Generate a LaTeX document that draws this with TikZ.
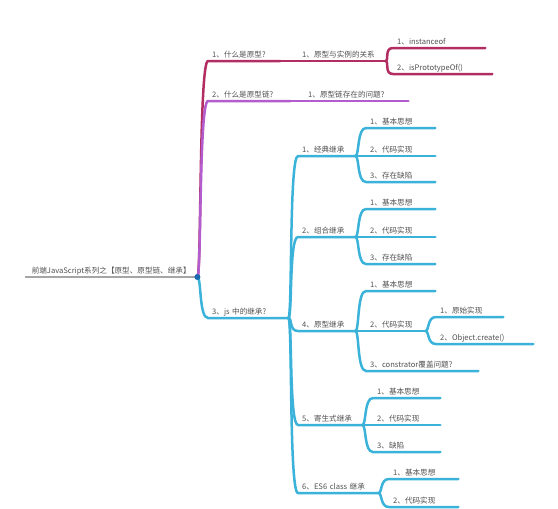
\documentclass[tikz,border=0pt]{standalone}
\usepackage{fontspec}
\newfontfamily\cjk{Noto Sans CJK SC}
\definecolor{protored}{RGB}{178,46,98}
\definecolor{chainpurple}{RGB}{178,92,205}
\definecolor{inheritblue}{RGB}{58,178,218}
\definecolor{rootgray}{RGB}{165,165,165}
\definecolor{rootdot}{RGB}{25,105,175}
\definecolor{labelgray}{RGB}{80,80,80}

\begin{document}
\begin{tikzpicture}[x=1pt, y=-1pt,
  topic/.style={anchor=south west, inner xsep=4pt, inner ysep=2.5pt, text width=#1, align=left, font={\cjk\fontsize{7.6}{8}\selectfont}, text=labelgray, text height=6pt, text depth=1pt},
  branch/.style={to path={.. controls +(4,0) and +(-9,0) .. (\tikztotarget)}},
  rootline/.style={draw=rootgray, line width=2.6pt},
  proto/.style={draw=protored, line width=2.5pt, line cap=round},
  chain/.style={draw=chainpurple, line width=2.5pt, line cap=round},
  inherit/.style={draw=inheritblue, line width=2.5pt, line cap=round}]

\useasboundingbox (0,0) rectangle (558,509);

% ROOT

\node[topic=164, align=center] (root) at (25,277) {前端JavaScript系列之【原型、原型链、继承】};

% PROTOTYPE

\node[topic=64] (b1) at (208,61) {1、什么是原型?};
\node[topic=79] (b1a) at (298,61) {1、原型与实例的关系};
\node[topic=84] (b1a1) at (393,48) {1、instanceof};
\node[topic=91] (b1a2) at (393,74) {2、isPrototypeOf()};

% CHAIN

\node[topic=74] (b2) at (208,101) {2、什么是原型链?};
\node[topic=96] (b2a) at (304,101) {1、原型链存在的问题?};

% INHERITANCE

\node[topic=72] (b3) at (208,318) {3、js 中的继承?};

\node[topic=49] (c1) at (298,156) {1、经典继承};
\node[topic=61] (c1a) at (366,128) {1、基本思想};
\node[topic=61] (c1b) at (366,156) {2、代码实现};
\node[topic=61] (c1c) at (366,182) {3、存在缺陷};

\node[topic=49] (c2) at (298,237) {2、组合继承};
\node[topic=61] (c2a) at (366,209) {1、基本思想};
\node[topic=61] (c2b) at (366,237) {2、代码实现};
\node[topic=61] (c2c) at (366,264) {3、存在缺陷};

\node[topic=49] (c4) at (298,331) {4、原型继承};
\node[topic=61] (c4a) at (366,291) {1、基本思想};
\node[topic=51] (c4b) at (366,331) {2、代码实现};
\node[topic=104] (c4c) at (366,371) {3、constrator覆盖问题?};
\node[topic=59] (d1) at (436,317) {1、原始实现};
\node[topic=89] (d2) at (436,344) {2、Object.create()};

\node[topic=56] (c5) at (298,425) {5、寄生式继承};
\node[topic=59] (c5a) at (373,398) {1、基本思想};
\node[topic=59] (c5b) at (373,425) {2、代码实现};
\node[topic=59] (c5c) at (373,452) {3、缺陷};

\node[topic=72] (c6) at (298,493) {6、ES6 class 继承};
\node[topic=61] (c6a) at (389,479) {1、基本思想};
\node[topic=61] (c6b) at (389,507) {2、代码实现};

% BRANCHES

\draw[rootline] (root.south west) -- (root.south east);

\foreach \a/\b in {root/b3, b3/c1, b3/c2, b3/c4, b3/c5, b3/c6,
  c1/c1a, c1/c1b, c1/c1c, c2/c2a, c2/c2b, c2/c2c,
  c4/c4a, c4/c4b, c4/c4c, c4b/d1, c4b/d2,
  c5/c5a, c5/c5b, c5/c5c, c6/c6a, c6/c6b}
  \draw[inherit, branch] (\a.south east) to (\b.south west) -- (\b.south east);

\foreach \a/\b in {root/b1, b1/b1a, b1a/b1a1, b1a/b1a2}
  \draw[proto, branch] (\a.south east) to (\b.south west) -- (\b.south east);

\foreach \a/\b in {root/b2, b2/b2a}
  \draw[chain, branch] (\a.south east) to (\b.south west) -- (\b.south east);

\fill[rootdot] (root.south east) circle (3pt);

\end{tikzpicture}
\end{document}
